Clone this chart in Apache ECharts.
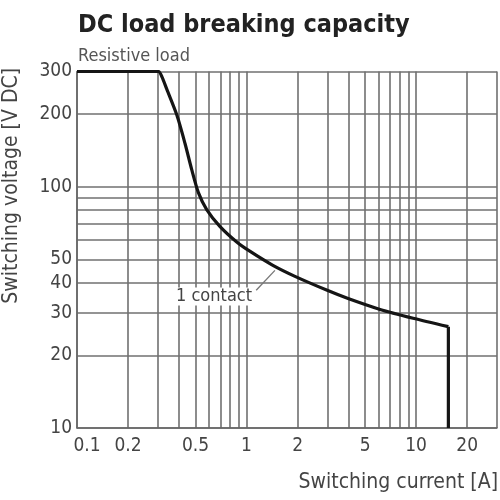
<!DOCTYPE html>
<html><head><meta charset="utf-8">
<script src="https://cdn.jsdelivr.net/npm/echarts@6/dist/echarts.min.js"></script>
<style>html,body{margin:0;padding:0;background:#fff}#c{width:500px;height:500px}</style>
</head><body><div id="c"></div>
<script>
const currentA = [0.1, 0.302, 0.317, 0.338, 0.388, 0.434, 0.475, 0.52, 0.582, 0.698, 0.875, 1.05, 1.43, 1.93, 2.99, 3.97, 6.13, 9.6, 15.5, 15.5];
const voltageV = [300, 300, 285, 254, 198, 150.6, 117.6, 94.5, 80.4, 68.3, 59, 53.9, 47.2, 42.5, 37.2, 34.4, 31, 28.5, 26.3, 10];
const xGridValues = [0.1,0.2,0.3,0.4,0.5,0.6,0.7,0.8,0.9,1,2,3,4,5,6,7,8,9,10,20,30];
const xTickLabels = [0.1,0.2,0.5,1,2,5,10,20];
const yGridValues = [10,20,30,40,50,60,70,80,90,100,200,300];
const yTickLabels = [10,20,30,40,50,100,200,300];
const curveLabel = '1 contact';
const FONT = "'DejaVu Sans Condensed', 'Liberation Sans', sans-serif";

const chart = echarts.init(document.getElementById('c'), null, {renderer:'canvas'});
const gridColor = '#707070';
const pts = currentA.map((x,i)=>[x, voltageV[i]]);
const n = pts.length;
chart.setOption({
  animation:false,
  backgroundColor:'#fff',
  title:[
    {text:'DC load breaking capacity', left:73, top:8,
     textStyle:{fontFamily:FONT, fontWeight:'bold', fontSize:25, color:'#222'}},
    {text:'Resistive load', left:73, top:42,
     textStyle:{fontFamily:FONT, fontWeight:'normal', fontSize:18, color:'#555'}}
  ],
  grid:{left:77, right:3, top:71.5, bottom:72, containLabel:false},
  xAxis:{type:'log', logBase:10, min:0.1, max:30,
    axisLine:{show:true, onZero:false, lineStyle:{color:'#666', width:1.5}},
    axisTick:{show:false, customValues:xGridValues},
    splitLine:{show:true, lineStyle:{color:gridColor, width:1.6}},
    axisLabel:{customValues:xTickLabels, margin:9, fontFamily:FONT, fontSize:19, color:'#444',
      formatter:v=> (Math.abs(v-0.1)<1e-9 ? '{s|0.1}' : String(+v.toPrecision(3))),
      rich:{s:{fontFamily:FONT, fontSize:19, color:'#444', padding:[0,0,0,20]}}}
  },
  yAxis:{type:'log', logBase:10, min:10, max:300,
    axisLine:{show:true, lineStyle:{color:'#666', width:1.5}},
    axisTick:{show:false, customValues:yGridValues},
    splitLine:{show:true, lineStyle:{color:gridColor, width:1.6}},
    axisLabel:{customValues:yTickLabels, margin:5, fontFamily:FONT, fontSize:19, color:'#444',
      formatter:v=>String(+v.toPrecision(3))}
  },
  graphic:[
    {type:'text', left:1, top:68, rotation:Math.PI/2,
     style:{text:'Switching voltage [V DC]', fontFamily:FONT, fontSize:21, fill:'#444'}},
    {type:'text', right:2, top:472,
     style:{text:'Switching current [A]', fontFamily:FONT, fontSize:21, fill:'#444'}}
  ],
  series:[{
    type:'line', showSymbol:false, symbol:'none', smooth:0.25,
    lineStyle:{color:'#151515', width:3.2},
    data: pts.slice(0, n-1),
    markLine:{silent:true, symbol:'none',
      lineStyle:{color:'#777', width:1.3, type:'solid'}, label:{show:false},
      data:[[{coord:[1.14,37.2]},{coord:[1.47,45]}]]},
    markPoint:{silent:true, symbol:'rect', symbolSize:1,
      itemStyle:{color:'rgba(0,0,0,0)'},
      data:[{coord:[0.643,35.1], label:{show:true, formatter:curveLabel, position:'inside',
        fontFamily:FONT, fontSize:18, color:'#444', backgroundColor:'#fff', padding:[0,2]}}]}
  },{
    type:'line', showSymbol:false, symbol:'none', smooth:false,
    lineStyle:{color:'#151515', width:3.2},
    data: pts.slice(n-2)
  }]
});
</script></body></html>
